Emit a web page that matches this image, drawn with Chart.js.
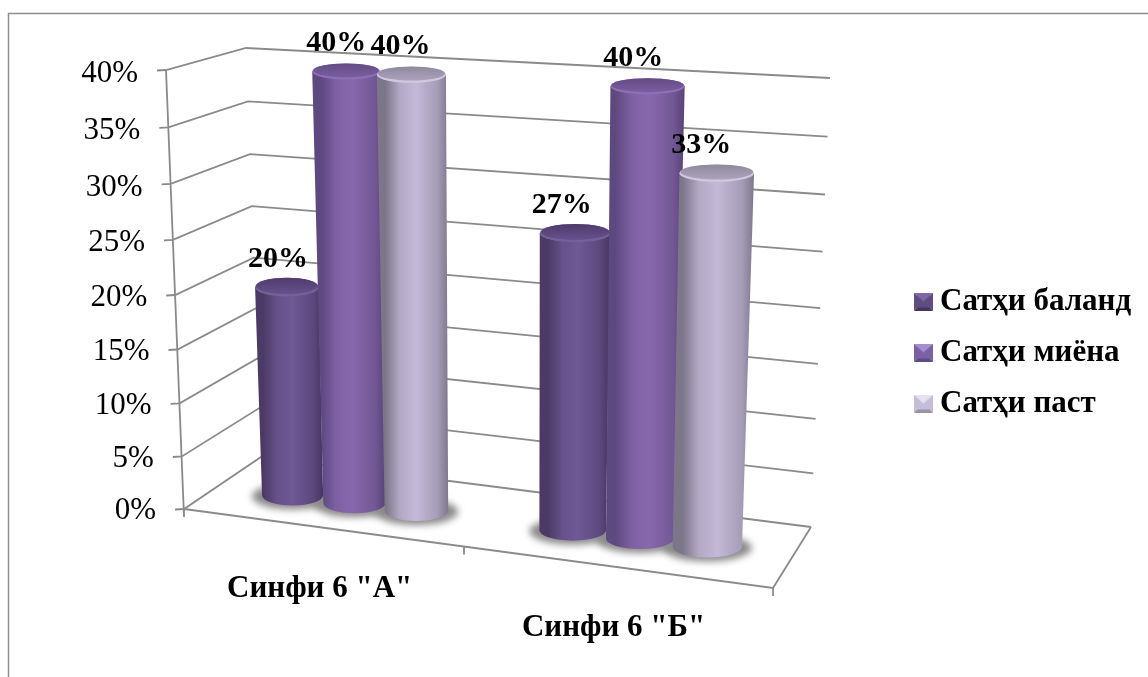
<!DOCTYPE html>
<html><head><meta charset="utf-8">
<style>html,body{margin:0;padding:0;background:#fff}canvas{display:block}</style>
<script src="https://cdn.jsdelivr.net/npm/chart.js@4"></script>
</head><body><canvas id="c" width="1148" height="677"></canvas>
<script>
const categories = ['Синфи 6 "А"', 'Синфи 6 "Б"'];
const seriesNames = ['Сатҳи баланд', 'Сатҳи миёна', 'Сатҳи паст'];
const seriesHigh = [20, 27];
const seriesMid = [40, 40];
const seriesLow = [40, 33];
const tickLabels = ['0%','5%','10%','15%','20%','25%','30%','35%','40%'];
const FONT = '"Liberation Serif"';

// Perspective of the 3-D box: depth foreshortening along the value axis.
const PV = -0.0488, PX = -0.0938;
const persp = (t, c) => t * (1 + c) / (1 + c * t);

class PerspectiveLinear extends Chart.LinearScale {
  getPixelForValue(v) {
    const t = (v - this.min) / (this.max - this.min);
    return this.bottom - (this.bottom - this.top) * persp(t, PV);
  }
  frac(v) { return (this.bottom - this.getPixelForValue(v)) / (this.bottom - this.top); }
  _computeLabelItems(area) {
    const items = super._computeLabelItems(area);
    items.forEach((it, i) => {
      const f = this.frac(this.ticks[i].value);
      it.options.translation[0] = 156 - 18 * f;
      it.options.translation[1] += 2 + 2 * f;
    });
    return items;
  }
}
PerspectiveLinear.id = 'perspectiveLinear';
PerspectiveLinear.defaults = Chart.LinearScale.defaults;

const frontEdge = (u) => { const x = 184 + 589 * persp(u, PX); return {x, y: 509 + (x - 184) * 0.1341}; };

class PerspectiveCategory extends Chart.CategoryScale {
  _computeLabelItems(area) {
    const items = super._computeLabelItems(area);
    items.forEach((it, i) => {
      const px = this.getPixelForTick(i);
      const e = frontEdge((px - this.left) / (this.right - this.left));
      it.options.translation[0] = e.x - 1;
      it.options.translation[1] = e.y + 61.5;
      it.options.textBaseline = 'middle';
      it.textOffset = 0;
    });
    return items;
  }
}
PerspectiveCategory.id = 'perspectiveCategory';
PerspectiveCategory.defaults = Chart.CategoryScale.defaults;
Chart.register(PerspectiveLinear, PerspectiveCategory);

const looks = [
  {edge:'#4b3a66', mid:'#6f5894', dark:'#463560', capA:'#4f3c6c', capB:'#6a5490', rim:'#75609b', top:'#7d68a4', side:'#5f4c82', bot:'#463761'},
  {edge:'#5d4880', mid:'#8768ad', dark:'#584478', capA:'#634c86', capB:'#7d60a3', rim:'#8c6fb4', top:'#a68ed0', side:'#7b60a6', bot:'#5e4a85'},
  {edge:'#7c7689', mid:'#c4b9d8', dark:'#7e788c', capA:'#908a9e', capB:'#afa6c0', rim:'#d0c8e0', top:'#e6e1f0', side:'#c6bed8', bot:'#9a92a6'}
];

function bevel(l) {
  const c = document.createElement('canvas'); c.width = 19; c.height = 18;
  const g = c.getContext('2d'), W = 19, H = 18, m = 9.5, n = 9;
  const tri = (col, a, b, d, e) => { g.fillStyle = col; g.beginPath(); g.moveTo(a, b); g.lineTo(d, e); g.lineTo(m, n); g.closePath(); g.fill(); };
  tri(l.side, 0, 0, 0, H); tri(l.side, W, 0, W, H); tri(l.top, 0, 0, W, 0); tri(l.bot, 0, H, W, H);
  g.fillStyle = l.side; g.fillRect(3, 3, 13, 12);
  g.fillStyle = l.top; g.beginPath(); g.moveTo(3, 3); g.lineTo(16, 3); g.lineTo(9.5, 9); g.closePath(); g.fill();
  return c;
}

function geometry(chart, dsi, i) {
  const xs = chart.scales.x, bar = chart.getDatasetMeta(dsi).data[i];
  const xc = xs.getPixelForValue(i);
  const g = 0.96 + (xc - 352) * 0.00029;
  const shift = 2.5 * (1 - (xc - 352) / 288);
  const bx = xc + shift + (bar.x - xc) * g;
  const by = 495 + 0.1244 * (bx - 290);
  const k = 0.972 + (bx - 288) * 0.000165;
  const h = (bar.base - bar.y) * k;
  const t = h / (bar.base - chart.scales.y.top);
  const tx = bx + 0.0556 * (bx - 508) * t;
  const ty = by - h;
  const wb = 61 + 0.02 * (bx - 292);
  const wt = wb * (1 + 0.09 * t);
  const ryOf = y => 7.5 + (y - 70) * 0.0065;
  return {bx, by, tx, ty, wb, wt, rb: ryOf(by), rt: ryOf(ty)};
}

const box3d = {
  id: 'box3d',
  beforeDatasetsDraw(chart) {
    const ctx = chart.ctx, ys = chart.scales.y;
    ctx.save();
    // outer frame
    ctx.strokeStyle = '#8f8f8f'; ctx.lineWidth = 1.5;
    ctx.beginPath(); ctx.moveTo(8.5, 677); ctx.lineTo(8.5, 13.5); ctx.lineTo(1148, 13.5); ctx.stroke();
    // walls
    ctx.strokeStyle = '#8a8a8a'; ctx.lineWidth = 1.8;
    ys.ticks.forEach(tk => {
      const f = ys.frac(tk.value), y = ys.getPixelForValue(tk.value);
      const fx = 184 - 18 * f;
      ctx.beginPath();
      ctx.moveTo(fx - 9, y + 0.5);
      ctx.lineTo(fx, y);
      ctx.lineTo(261 - 15 * f, 457 - 409 * f);
      ctx.lineTo(811 + 19 * f, 527 - 449 * f);
      ctx.stroke();
    });
    const right = frontEdge(1);
    ctx.beginPath();
    ctx.moveTo(166, ys.top); ctx.lineTo(184, ys.bottom + 8);
    ctx.moveTo(184, 509); ctx.lineTo(right.x, right.y); ctx.lineTo(811, 527);
    [0, 0.5, 1].forEach(u => { const e = frontEdge(u); ctx.moveTo(e.x, e.y); ctx.lineTo(e.x, e.y + 8); });
    ctx.stroke();
    // floor shadows
    const n = chart.data.datasets.length;
    ctx.filter = 'blur(3.5px)'; ctx.fillStyle = '#8a8a8a';
    for (let i = 0; i < categories.length; i++) for (let d = 0; d < n; d++) {
      const q = geometry(chart, d, i);
      ctx.beginPath(); ctx.ellipse(q.bx, q.by + 1, q.wb / 2 + 10, q.rb + 3, 0, 0, Math.PI * 2); ctx.fill();
    }
    ctx.filter = 'none';
    // cylinders
    for (let i = 0; i < categories.length; i++) for (let d = 0; d < n; d++) {
      const q = geometry(chart, d, i), l = looks[d];
      const xl = Math.min(q.bx - q.wb / 2, q.tx - q.wt / 2), xr = Math.max(q.bx + q.wb / 2, q.tx + q.wt / 2);
      const gr = ctx.createLinearGradient(xl, 0, xr, 0);
      gr.addColorStop(0, l.edge); gr.addColorStop(0.12, l.edge);
      gr.addColorStop(0.32, mix(l.edge, l.mid, 0.75));
      gr.addColorStop(0.55, l.mid); gr.addColorStop(0.85, mix(l.mid, l.dark, 0.45)); gr.addColorStop(1, l.dark);
      ctx.fillStyle = gr;
      ctx.beginPath();
      ctx.moveTo(q.tx - q.wt / 2, q.ty);
      ctx.lineTo(q.bx - q.wb / 2, q.by);
      ctx.ellipse(q.bx, q.by, q.wb / 2, q.rb, 0, Math.PI, 0, true);
      ctx.lineTo(q.tx + q.wt / 2, q.ty);
      ctx.closePath();
      ctx.fill();
      // cap
      ctx.beginPath(); ctx.ellipse(q.tx, q.ty, q.wt / 2, q.rt + 0.5, 0, 0, Math.PI * 2);
      ctx.fillStyle = l.rim; ctx.fill();
      const cg = ctx.createLinearGradient(0, q.ty - q.rt, 0, q.ty + q.rt);
      cg.addColorStop(0, l.capA); cg.addColorStop(1, l.capB);
      ctx.beginPath(); ctx.ellipse(q.tx, q.ty - 1.2, q.wt / 2 - 1, q.rt - 0.6, 0, 0, Math.PI * 2);
      ctx.fillStyle = cg; ctx.fill();
    }
    ctx.restore();
  },
  beforeDatasetDraw() { return false; },
  afterDatasetsDraw(chart) {
    const ctx = chart.ctx;
    ctx.save();
    ctx.fillStyle = '#000'; ctx.font = 'bold 30px ' + FONT;
    ctx.textAlign = 'center'; ctx.textBaseline = 'middle';
    chart.data.datasets.forEach((ds, d) => ds.data.forEach((v, i) => {
      const q = geometry(chart, d, i);
      ctx.fillText(Math.round(v) + '%', q.tx - 9 - (q.tx - 287) * 0.015, q.ty - 28);
    }));
    ctx.restore();
  },
  afterLayout(chart) {
    const lg = chart.legend;
    const p = lg.options.labels.padding;
    lg.left = 922.5 - p;
    lg.right = 1148;
    lg.top = 28; lg.bottom = 677;
  }
};

function mix(a, b, t) {
  const h = s => [1, 3, 5].map(i => parseInt(s.slice(i, i + 2), 16));
  const A = h(a), B = h(b);
  return 'rgb(' + A.map((v, i) => Math.round(v + (B[i] - v) * t)).join(',') + ')';
}

const seriesValues = [seriesHigh, seriesMid, seriesLow];
new Chart(document.getElementById('c'), {
  type: 'bar',
  data: {
    labels: categories,
    datasets: seriesNames.map((name, d) => ({label: name, data: seriesValues[d], backgroundColor: looks[d].mid}))
  },
  plugins: [box3d],
  options: {
    responsive: false, animation: false,
    categoryPercentage: 0.672, barPercentage: 1,
    layout: {padding: {top: 70, left: 0, right: 244, bottom: 0}},
    plugins: {
      tooltip: {enabled: false},
      legend: {
        position: 'right', maxWidth: 120,
        labels: {
          usePointStyle: true, boxWidth: 2, padding: 20, color: '#000',
          font: {family: FONT, size: 31, weight: 'bold'},
          generateLabels(chart) {
            return Chart.defaults.plugins.legend.labels.generateLabels(chart)
              .map((it, i) => Object.assign(it, {pointStyle: bevel(looks[i])}));
          }
        }
      }
    },
    scales: {
      x: {
        type: 'perspectiveCategory', grid: {display: false}, border: {display: false},
        ticks: {maxRotation: 0, minRotation: 0, autoSkip: false, color: '#000', font: {family: FONT, size: 31, weight: 'bold'}},
        afterFit(s) { s.height = 168; }
      },
      y: {
        type: 'perspectiveLinear', min: 0, max: 40, grid: {display: false}, border: {display: false},
        ticks: {stepSize: 5, padding: 0, color: '#000', font: {family: FONT, size: 31},
          callback: (v, i) => tickLabels[i]},
        afterFit(s) { s.width = 208; }
      }
    }
  }
});
</script></body></html>
